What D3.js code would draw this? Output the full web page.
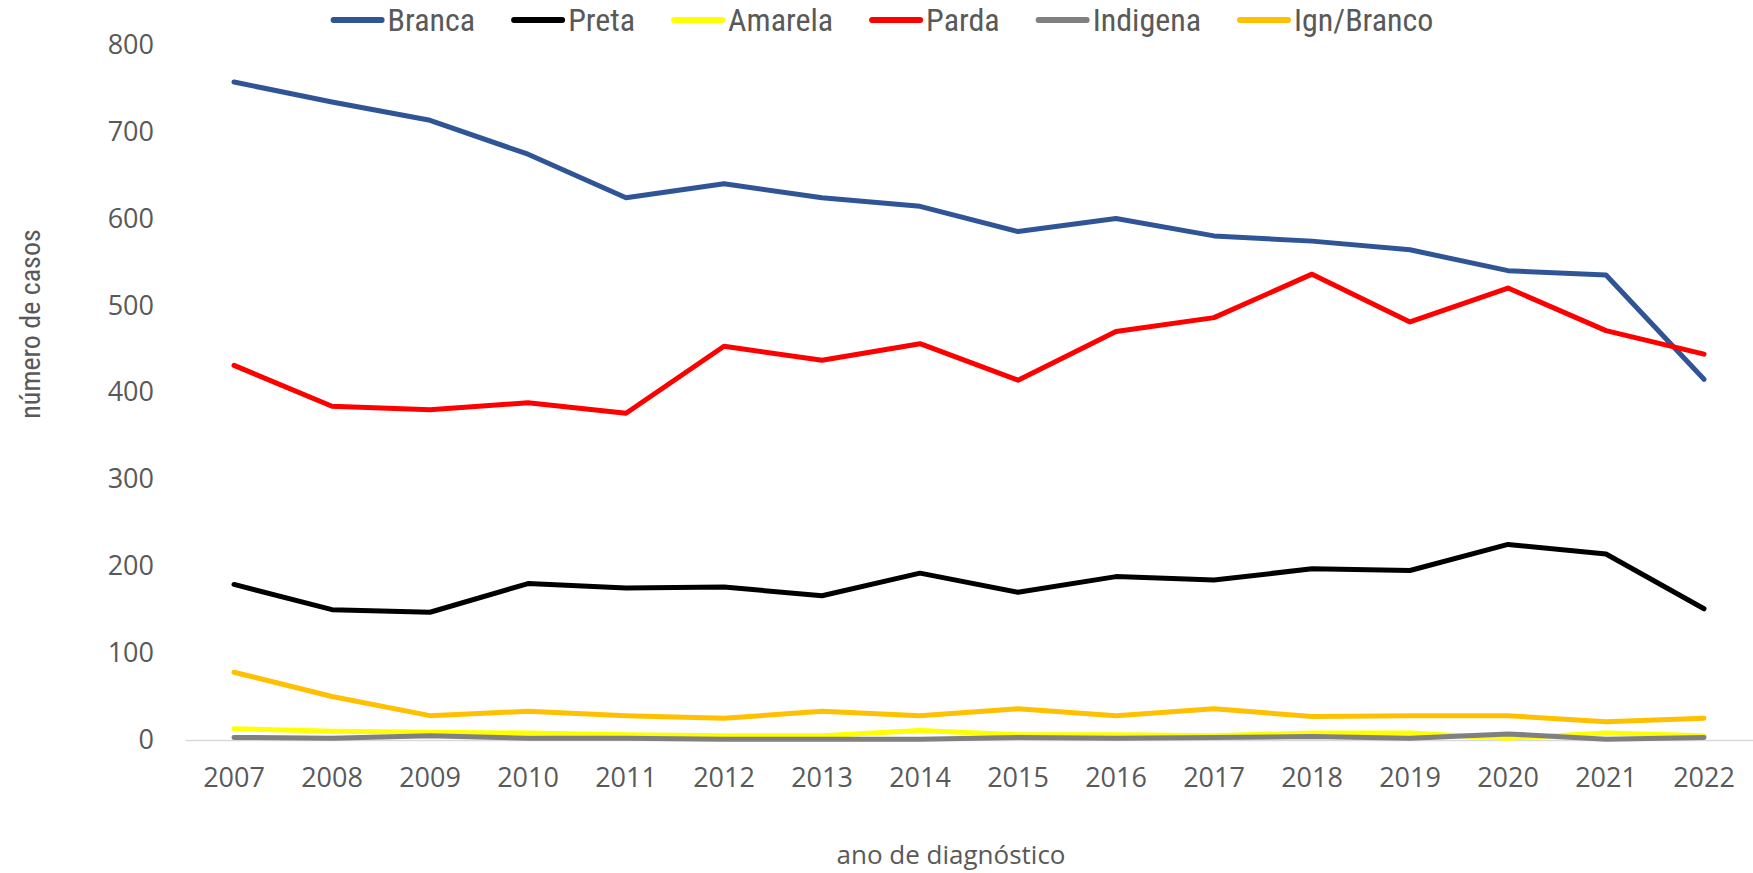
<!DOCTYPE html>
<html>
<head>
<meta charset="utf-8">
<script src="https://cdn.jsdelivr.net/npm/d3@7"></script>
<style>
    body { margin: 0; background: #fff; }
    svg { display: block; }
    .tick text { fill: #595959; }
</style>
</head>
<body>
<div id="chart"></div>
<script>
(function () {
    'use strict';

    // data
    var years = ['2007', '2008', '2009', '2010', '2011', '2012', '2013', '2014',
        '2015', '2016', '2017', '2018', '2019', '2020', '2021', '2022'];
    var branca = [757, 734, 713, 674, 624, 640, 624, 614, 585, 600, 580, 574, 564, 540, 535, 415];
    var preta = [179, 150, 147, 180, 175, 176, 166, 192, 170, 188, 184, 197, 195, 225, 214, 151];
    var amarela = [13, 10, 9, 8, 6, 5, 5, 11, 6, 6, 5, 8, 8, 2, 8, 5];
    var parda = [431, 384, 380, 388, 376, 453, 437, 456, 414, 470, 486, 536, 481, 520, 471, 444];
    var indigena = [3, 2, 5, 2, 2, 1, 1, 1, 3, 2, 3, 4, 2, 7, 1, 3];
    var ignBranco = [78, 50, 28, 33, 28, 25, 33, 28, 36, 28, 36, 27, 28, 28, 21, 25];
    var yTicks = [0, 100, 200, 300, 400, 500, 600, 700, 800];

    var series = [
        { name: 'Branca', values: branca, color: '#2F5597' },
        { name: 'Preta', values: preta, color: '#000000' },
        { name: 'Amarela', values: amarela, color: '#FFFF00' },
        { name: 'Parda', values: parda, color: '#FF0000' },
        { name: 'Indigena', values: indigena, color: '#808080' },
        { name: 'Ign/Branco', values: ignBranco, color: '#FFC000' },
    ];

    // layout
    var W = 1753, H = 873,
        plot = { left: 185, right: 1753, top: 44.7, bottom: 740 },
        narrow = '"Liberation Sans Narrow", "Roboto Condensed", "Liberation Sans", sans-serif',
        wide = '"Open Sans", "DejaVu Sans", sans-serif',
        textColor = '#595959';

    var svg = d3.select('#chart').append('svg')
        .attr('width', W)
        .attr('height', H);

    var x = d3.scaleBand()
        .domain(years)
        .range([plot.left, plot.right]);

    var y = d3.scaleLinear()
        .domain([0, 800])
        .range([plot.bottom, plot.top]);

    function cx(d, i) {
        return x(years[i]) + x.bandwidth() / 2;
    }

    // y axis (labels only)
    var yAxis = svg.append('g')
        .attr('transform', 'translate(' + (plot.left - 31) + ',0)')
        .call(d3.axisLeft(y).tickValues(yTicks).tickSize(0).tickPadding(0));
    yAxis.select('.domain').remove();
    yAxis.selectAll('text')
        .style('font-family', wide)
        .style('font-size', '27px');

    // x axis
    var xAxis = svg.append('g')
        .attr('transform', 'translate(0,' + plot.bottom + ')')
        .call(d3.axisBottom(x).tickSize(0).tickPadding(28));
    xAxis.select('.domain')
        .attr('stroke', '#D9D9D9')
        .attr('stroke-width', 1.5);
    xAxis.selectAll('text')
        .style('font-family', wide)
        .style('font-size', '27px');

    // axis titles
    svg.append('text')
        .attr('x', 951)
        .attr('y', 864)
        .attr('text-anchor', 'middle')
        .style('font-family', wide)
        .style('font-size', '26px')
        .style('fill', textColor)
        .text('ano de diagnóstico');

    svg.append('text')
        .attr('transform', 'translate(40,324) rotate(-90)')
        .attr('text-anchor', 'middle')
        .style('font-family', narrow)
        .style('font-size', '28px')
        .style('fill', textColor)
        .text('número de casos');

    // lines
    var line = d3.line()
        .x(cx)
        .y(function (d) { return y(d); });

    svg.append('g').selectAll('path')
        .data(series)
        .enter().append('path')
        .attr('d', function (s) { return line(s.values); })
        .attr('fill', 'none')
        .attr('stroke', function (s) { return s.color; })
        .attr('stroke-width', 5)
        .attr('stroke-linejoin', 'round')
        .attr('stroke-linecap', 'round');

    // legend, laid out from measured text widths
    var legend = svg.append('g'),
        sw = 54, gap = 3, pad = 36, lx = 0;

    series.forEach(function (s) {
        var item = legend.append('g').attr('transform', 'translate(' + lx + ',0)');
        item.append('line')
            .attr('x1', 3).attr('x2', sw - 3)
            .attr('y1', 0).attr('y2', 0)
            .attr('stroke', s.color)
            .attr('stroke-width', 6)
            .attr('stroke-linecap', 'round');
        var t = item.append('text')
            .attr('x', sw + gap)
            .attr('y', 11)
            .style('font-family', narrow)
            .style('font-size', '32px')
            .style('fill', textColor)
            .text(s.name);
        lx += sw + gap + t.node().getComputedTextLength() + pad;
    });
    lx -= pad;
    legend.attr('transform', 'translate(' + (882 - lx / 2) + ',20)');
}());
</script>
</body>
</html>
